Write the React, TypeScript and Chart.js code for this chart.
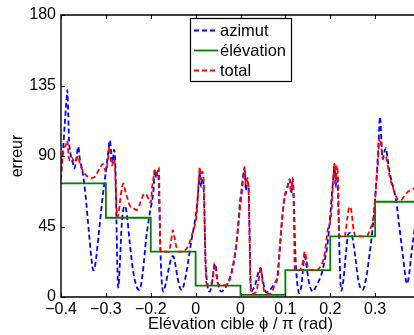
import React, { useEffect, useRef } from "react";
import { Chart, registerables } from "chart.js";

Chart.register(...registerables);

const xTickValues = [-0.4, -0.3, -0.2, -0.1, 0, 0.1, 0.2, 0.3];
const xTickLabels = ["−0.4", "−0.3", "−0.2", "0", "0", "0.1", "0.2", "0.3"];
const yTickValues = [0, 45, 90, 135, 180];
const xTitle = "Elévation cible ϕ / π (rad)";
const yTitle = "erreur";

const seriesLabels = ["azimut", "élévation", "total"];

const azimutX = [
  -0.4, -0.396, -0.391, -0.388, -0.386, -0.384, -0.382, -0.378, -0.374, -0.37, -0.366, -0.3615, -0.358,
  -0.352, -0.345, -0.338, -0.332, -0.328, -0.323, -0.316, -0.308, -0.3, -0.295, -0.291, -0.288, -0.285,
  -0.282, -0.279, -0.2765, -0.2745, -0.2725, -0.269, -0.265, -0.261, -0.257, -0.253, -0.247, -0.24,
  -0.232, -0.225, -0.218, -0.21, -0.203, -0.198, -0.194, -0.191, -0.188, -0.185, -0.182, -0.179, -0.176,
  -0.172, -0.167, -0.16, -0.154, -0.15, -0.146, -0.14, -0.135, -0.131, -0.126, -0.118, -0.11, -0.103,
  -0.097, -0.093, -0.0905, -0.088, -0.086, -0.083, -0.081, -0.078, -0.074, -0.0685, -0.063, -0.0585,
  -0.056, -0.052, -0.047, -0.0425, -0.036, -0.028, -0.02, -0.012, -0.006, -0.002, 0.003, 0.006, 0.009,
  0.012, 0.015, 0.018, 0.02, 0.022, 0.024, 0.028, 0.033, 0.04, 0.045, 0.049, 0.054, 0.058, 0.064, 0.07,
  0.076, 0.082, 0.087, 0.091, 0.095, 0.099, 0.103, 0.107, 0.11, 0.113, 0.1165, 0.119, 0.122, 0.126,
  0.1317, 0.136, 0.14, 0.143, 0.147, 0.152, 0.157, 0.161, 0.167, 0.174, 0.18, 0.186, 0.192, 0.197, 0.201,
  0.205, 0.208, 0.2096, 0.212, 0.214, 0.2165, 0.219, 0.222, 0.2245, 0.229, 0.235, 0.24, 0.245, 0.25,
  0.256, 0.263, 0.2725, 0.28, 0.287, 0.293, 0.298, 0.303, 0.307, 0.311, 0.314, 0.317, 0.32, 0.324, 0.328,
  0.332, 0.3395, 0.347, 0.354, 0.362, 0.3713, 0.376, 0.381, 0.386, 0.392, 0.4,
];
const azimutY = [
  80, 92, 113, 125, 132, 118, 100, 90, 86, 82, 88, 96, 88,
  80, 64, 42, 24, 17, 22, 40, 62, 80, 92, 100, 92, 86,
  94, 85, 50, 20, 6, 20, 45, 56, 58, 52, 35, 18,
  7, 4.5, 15, 38, 52, 60, 68, 81, 76, 80, 72, 35, 12,
  3.5, 8, 18, 25, 26, 22, 12, 6, 4.5, 8, 20, 35, 46,
  58, 72, 80, 70, 76, 74, 60, 25, 8, 3.4, 10, 19,
  21, 12, 5, 3.5, 5, 9, 16, 28, 42, 58, 70, 78, 82,
  68, 74, 70, 45, 15, 3.4, 5, 8, 16, 18.5, 12, 5, 3, 4, 6,
  9, 13, 28, 43, 56, 64, 68, 73, 75, 66, 74, 60, 30, 10,
  2.5, 8, 20, 25.7, 20, 10, 5, 3.4, 6, 10, 14, 21, 30, 42, 56,
  70, 80, 85, 70, 78, 72, 45, 15, 4, 10, 28, 40, 41, 37,
  25, 10, 4.5, 12, 26, 40, 55, 75, 95, 115, 100, 88, 92, 95, 88,
  80, 71, 61, 45, 26, 8.5, 15, 28, 39, 50, 58,
];

const elevationX = [-0.4, -0.3, -0.2, -0.1, 0, 0.1, 0.2, 0.3, 0.4];
const elevationY = [72.5, 50.6, 28.9, 7.2, 1.3, 17.2, 38.7, 60.8, 60.8];

const totalX = [
  -0.4, -0.397, -0.393, -0.389, -0.386, -0.383, -0.38, -0.376, -0.372, -0.368, -0.364, -0.3615, -0.358,
  -0.352, -0.345, -0.338, -0.331, -0.324, -0.318, -0.312, -0.306, -0.3, -0.296, -0.292, -0.289, -0.286,
  -0.283, -0.28, -0.277, -0.275, -0.272, -0.268, -0.264, -0.261, -0.257, -0.252, -0.246, -0.24, -0.232,
  -0.226, -0.22, -0.214, -0.209, -0.204, -0.2, -0.197, -0.194, -0.191, -0.188, -0.185, -0.182, -0.18,
  -0.178, -0.17, -0.16, -0.155, -0.151, -0.147, -0.143, -0.139, -0.128, -0.12, -0.113, -0.106, -0.1,
  -0.097, -0.094, -0.0905, -0.088, -0.085, -0.082, -0.08, -0.078, -0.076, -0.068, -0.062, -0.058, -0.054,
  -0.05, -0.044, -0.036, -0.028, -0.02, -0.013, -0.0055, 0.002, 0.006, 0.009, 0.012, 0.015, 0.0175, 0.02,
  0.022, 0.025, 0.034, 0.04, 0.045, 0.049, 0.054, 0.062, 0.07, 0.076, 0.0835, 0.087, 0.091, 0.095, 0.098,
  0.102, 0.106, 0.1095, 0.112, 0.1168, 0.119, 0.121, 0.13, 0.136, 0.14, 0.143, 0.147, 0.151, 0.16, 0.17,
  0.177, 0.1873, 0.194, 0.2022, 0.206, 0.2096, 0.212, 0.215, 0.218, 0.22, 0.222, 0.232, 0.238, 0.2425,
  0.247, 0.251, 0.256, 0.27, 0.282, 0.287, 0.291, 0.295, 0.2985, 0.302, 0.306, 0.3097, 0.314, 0.317,
  0.321, 0.3246, 0.328, 0.3325, 0.337, 0.342, 0.347, 0.352, 0.358, 0.364, 0.369, 0.377, 0.385, 0.4,
];
const totalY = [
  75, 88, 95, 97, 100, 90, 87, 89, 87, 86, 89, 90, 85,
  81, 78, 76.5, 76, 77, 80, 83, 85, 80, 86, 96, 88, 84,
  88, 84, 62, 51, 53, 62, 70, 72.5, 68, 63, 58, 57, 55.5,
  58, 63, 66, 65, 62, 60, 70, 76, 81, 78, 80, 83, 55,
  29, 29, 29, 35, 42.7, 38, 32, 29, 29, 31, 35, 42, 48,
  55, 70, 83, 75, 80, 74, 50, 20, 8.7, 8, 12, 21.7, 14,
  8, 7.5, 7.5, 8.5, 15, 25, 45, 64, 75, 83, 72, 76, 72, 40,
  10, 2, 3, 10, 18.5, 10, 3, 2, 3, 8, 14, 30, 45, 56, 64,
  68, 72, 75, 68, 76, 50, 17.2, 17, 19, 24, 29, 24, 18, 17.2, 17.2,
  19, 27, 42, 53, 72, 85, 72, 84, 70, 40, 38.7, 39, 50, 57.6,
  55, 45, 39, 38.7, 39, 42, 45, 48, 58, 70, 85, 102, 95, 88,
  90, 89.5, 84, 77, 72, 68, 64, 62, 62, 64, 66, 68, 69, 67,
];

const FONT = "'Liberation Sans', Arial, Helvetica, sans-serif";
const blue = "rgb(0,0,255)";
const green = "rgb(0,128,0)";
const red = "rgb(255,0,0)";

const toPoints = (xs: number[], ys: number[]) => xs.map((x, i) => ({ x, y: ys[i] }));

const framePlugin = {
  id: "frame",
  afterDatasetsDraw(chart: any) {
    const { ctx, chartArea: a, scales } = chart;
    const L = Math.round(a.left);
    const R = Math.round(a.right);
    const T = Math.round(a.top);
    const B = Math.round(a.bottom);
    ctx.save();
    ctx.strokeStyle = "#000";
    ctx.lineWidth = 1.4;
    ctx.setLineDash([]);
    ctx.beginPath();
    ctx.moveTo(L, T);
    ctx.lineTo(R, T);
    ctx.lineTo(R, B);
    ctx.lineTo(L, B);
    ctx.closePath();
    ctx.stroke();
    const tl = 4;
    ctx.lineWidth = 1;
    ctx.beginPath();
    xTickValues.forEach((v) => {
      const px = Math.round(scales.x.getPixelForValue(v)) + 0.5;
      ctx.moveTo(px, B);
      ctx.lineTo(px, B - tl);
      ctx.moveTo(px, T);
      ctx.lineTo(px, T + tl);
    });
    yTickValues.forEach((v) => {
      const py = Math.round(scales.y.getPixelForValue(v)) + 0.5;
      ctx.moveTo(L, py);
      ctx.lineTo(L + tl, py);
      ctx.moveTo(R, py);
      ctx.lineTo(R - tl, py);
    });
    ctx.stroke();
    ctx.restore();
  },
};

const legendPlugin = {
  id: "boxLegend",
  afterDraw(chart: any) {
    const { ctx } = chart;
    const x0 = 190.5;
    const y0 = 18.5;
    const w = 101;
    const h = 63;
    ctx.save();
    ctx.fillStyle = "#fff";
    ctx.fillRect(x0, y0, w, h);
    ctx.strokeStyle = "#000";
    ctx.lineWidth = 1.2;
    ctx.setLineDash([]);
    ctx.strokeRect(x0, y0, w, h);
    chart.data.datasets.forEach((ds: any, i: number) => {
      const cy = 30.5 + i * 20;
      ctx.strokeStyle = ds.borderColor;
      ctx.lineWidth = ds.borderWidth;
      ctx.setLineDash(ds.borderDash || []);
      ctx.beginPath();
      ctx.moveTo(194, cy);
      ctx.lineTo(218, cy);
      ctx.stroke();
      ctx.setLineDash([]);
      ctx.fillStyle = "#000";
      ctx.font = `16.5px ${FONT}`;
      ctx.textBaseline = "middle";
      ctx.textAlign = "left";
      ctx.fillText(ds.label, 220, cy + 1);
    });
    ctx.restore();
  },
};

export default function App() {
  const canvasRef = useRef<HTMLCanvasElement | null>(null);

  useEffect(() => {
    const canvas = canvasRef.current;
    if (!canvas) return;
    Chart.defaults.font.family = FONT;
    Chart.defaults.color = "#000";
    const chart = new Chart(canvas, {
      type: "line",
      data: {
        datasets: [
          {
            label: seriesLabels[0],
            data: toPoints(azimutX, azimutY),
            borderColor: blue,
            borderWidth: 1.8,
            borderDash: [5, 3],
            pointRadius: 0,
            cubicInterpolationMode: "monotone",
            fill: false,
            order: 3,
          },
          {
            label: seriesLabels[1],
            data: toPoints(elevationX, elevationY),
            borderColor: green,
            borderWidth: 1.8,
            stepped: "before",
            pointRadius: 0,
            fill: false,
            order: 2,
          },
          {
            label: seriesLabels[2],
            data: toPoints(totalX, totalY),
            borderColor: red,
            borderWidth: 1.8,
            borderDash: [5, 3],
            pointRadius: 0,
            cubicInterpolationMode: "monotone",
            fill: false,
            order: 1,
          },
        ],
      },
      options: {
        animation: false,
        responsive: false,
        devicePixelRatio: 1,
        layout: { padding: { top: 15, left: 0, right: 0, bottom: 0 } },
        plugins: { legend: { display: false }, tooltip: { enabled: false } },
        scales: {
          x: {
            type: "linear",
            min: -0.4,
            max: 0.4,
            afterBuildTicks: (s: any) => {
              s.ticks = xTickValues.map((v) => ({ value: v }));
            },
            afterFit: (s: any) => {
              s.height = 38;
            },
            ticks: {
              autoSkip: false,
              maxRotation: 0,
              padding: 3,
              color: "#000",
              font: { size: 16 },
              callback: (_v: any, i: number) => xTickLabels[i],
            },
            grid: { display: false, drawTicks: false },
            border: { display: false },
            title: {
              display: true,
              text: xTitle,
              color: "#000",
              font: { size: 16.5 },
              padding: { top: 0, bottom: 1 },
            },
          },
          y: {
            type: "linear",
            min: 0,
            max: 180,
            afterBuildTicks: (s: any) => {
              s.ticks = yTickValues.map((v) => ({ value: v }));
            },
            afterFit: (s: any) => {
              s.width = 61;
            },
            ticks: { padding: 5, color: "#000", font: { size: 16 } },
            grid: { display: false, drawTicks: false },
            border: { display: false },
            title: {
              display: true,
              text: yTitle,
              color: "#000",
              font: { size: 16 },
              padding: { top: 8, bottom: 0 },
            },
          },
        },
      },
      plugins: [framePlugin, legendPlugin],
    });
    return () => chart.destroy();
  }, []);

  return (
    <div
      style={{
        position: "fixed",
        left: 0,
        top: 0,
        width: 414,
        height: 335,
        overflow: "hidden",
        background: "#fff",
      }}
    >
      <canvas ref={canvasRef} width={420} height={335} style={{ display: "block" }} />
    </div>
  );
}
